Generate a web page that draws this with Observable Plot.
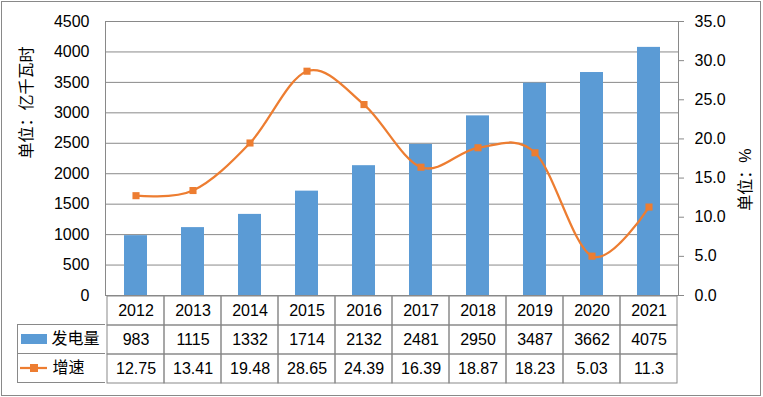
<!DOCTYPE html>
<html><head><meta charset="utf-8">
<script src="https://cdn.jsdelivr.net/npm/d3@7"></script>
<script src="https://cdn.jsdelivr.net/npm/@observablehq/plot@0.6"></script>
<style>
body{margin:0;background:#fff;}
#wrap{position:relative;width:763px;height:397px;overflow:hidden;background:#fff;font-family:"Liberation Sans","Noto Sans CJK SC",sans-serif;}
#wrap svg{position:absolute;left:0;top:0;}
</style></head><body><div id="wrap"></div>
<script>
const years = ["2012","2013","2014","2015","2016","2017","2018","2019","2020","2021"];
const generation = [983, 1115, 1332, 1714, 2132, 2481, 2950, 3487, 3662, 4075];
const growth = [12.75, 13.41, 19.48, 28.65, 24.39, 16.39, 18.87, 18.23, 5.03, 11.3];
const leftTicks = [0, 500, 1000, 1500, 2000, 2500, 3000, 3500, 4000, 4500];
const rightTicks = [0, 5, 10, 15, 20, 25, 30, 35];
const seriesNames = ["发电量", "增速"];
const leftTitle = "单位：亿千瓦时";
const rightTitle = "单位：%";

const BLUE = "#5B9BD5", ORANGE = "#ED7D31", GRID = "#898989";
const FONT = '"Liberation Sans","Noto Sans CJK SC",sans-serif';
const NUM = 16;
const W = 763, H = 397, ML = 105, MR = 85, MT = 21, MB = 102;
const tableTop = H - MB, tableBottom = 383, legendLeft = 17;
const rowH = (tableBottom - tableTop) / 3;

const rows = years.map((y, i) => ({year: y, gen: generation[i], growth: growth[i]}));
const common = {width: W, height: H, marginLeft: ML, marginRight: MR, marginTop: MT, marginBottom: MB};
const xBand = {type: "band", domain: years, paddingInner: 0.6, paddingOuter: 0.3, axis: null};
const style = {fontFamily: FONT, fontSize: NUM + "px", color: "#000", background: "transparent"};

const wrap = document.getElementById("wrap");

const main = Plot.plot({
  ...common, style,
  x: xBand,
  y: {domain: [0, 4500]},
  marks: [
    Plot.ruleY(leftTicks, {stroke: GRID}),
    Plot.barY(rows, {x: "year", y: "gen", fill: BLUE}),
    Plot.frame({stroke: GRID}),
    Plot.axisY({ticks: leftTicks, tickSize: 0, tickPadding: 16, label: null, fontSize: NUM, tickFormat: d => String(d)}),
    Plot.text([leftTitle], {text: d => d, frameAnchor: "left", rotate: -90, dx: -79, fontSize: 16})
  ]
});
wrap.appendChild(main);

const lineChart = Plot.plot({
  ...common, style,
  x: xBand,
  y: {domain: [0, 35]},
  marks: [
    Plot.line(rows, {x: "year", y: "growth", stroke: ORANGE, strokeWidth: 2.25, curve: "cardinal", tension: 0}),
    Plot.dot(rows, {x: "year", y: "growth", symbol: "square", r: 4, fill: ORANGE}),
    Plot.axisY({anchor: "right", ticks: rightTicks, tickSize: 5, tickPadding: 11, stroke: GRID,
      tickFormat: d => d.toFixed(1), label: null, fontSize: NUM}),
    Plot.text([rightTitle], {text: d => d, frameAnchor: "right", rotate: -90, dx: 67, dy: -10, fontSize: 16})
  ]
});
wrap.appendChild(lineChart);

const rowKeys = ["year", ...seriesNames];
const cells = years.flatMap((y, i) => [
  {year: y, row: rowKeys[0], text: y},
  {year: y, row: rowKeys[1], text: String(generation[i])},
  {year: y, row: rowKeys[2], text: String(growth[i])}
]);
const table = Plot.plot({
  width: W, height: H, marginLeft: ML, marginRight: MR, marginTop: tableTop, marginBottom: H - tableBottom,
  style,
  x: {type: "band", domain: years, padding: 0, axis: null},
  y: {type: "band", domain: rowKeys, padding: 0, axis: null},
  marks: [
    Plot.cell(cells, {x: "year", y: "row", fill: "none", stroke: GRID}),
    Plot.text(cells, {x: "year", y: "row", text: "text", fontSize: NUM})
  ]
});
wrap.appendChild(table);

// legend column of the data table
const legend = document.createElement("div");
legend.style.cssText = `position:absolute;left:${legendLeft - 0.5}px;top:${tableTop + rowH - 0.5}px;width:${ML - legendLeft}px;height:${2 * rowH + 1}px;box-sizing:border-box;border:1px solid ${GRID};border-right:none;font-size:16px;color:#000;`;
const mkRow = (swatch, label, withTop) => {
  const r = document.createElement("div");
  r.style.cssText = `display:flex;align-items:center;height:${rowH - (withTop ? 0 : 1)}px;box-sizing:border-box;${withTop ? `border-top:1px solid ${GRID};` : ""}`;
  r.innerHTML = swatch + `<span style="margin-left:5px;line-height:1">${label}</span>`;
  return r;
};
legend.appendChild(mkRow(`<span style="display:inline-block;margin-left:3px;width:26px;height:10px;background:${BLUE}"></span>`, seriesNames[0], false));
legend.appendChild(mkRow(`<svg width="28" height="10" style="position:static;margin-left:2px;display:block"><line x1="0" y1="5" x2="27" y2="5" stroke="${ORANGE}" stroke-width="2.25"/><rect x="10" y="1" width="8" height="8" fill="${ORANGE}"/></svg>`, seriesNames[1], true));
wrap.appendChild(legend);

const border = document.createElement("div");
border.style.cssText = `position:absolute;left:1px;top:1px;width:760px;height:395px;box-sizing:border-box;border:1px solid ${GRID};`;
wrap.appendChild(border);
</script></body></html>
